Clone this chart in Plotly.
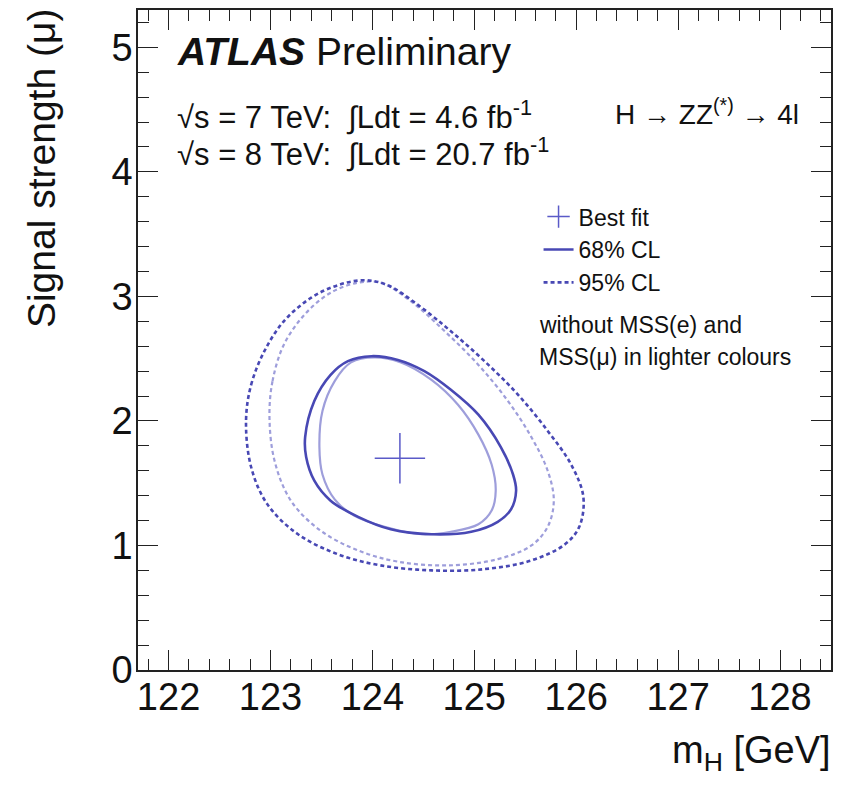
import plotly.graph_objects as go

# ---- data ----
best_fit_mh = [124.27]
best_fit_mu = [1.70]

# 68% CL, with MSS (dark)
cl68_mh = [123.34, 123.43, 123.59, 123.76, 123.99, 124.25, 124.51, 124.77, 125.04, 125.26,
           125.38, 125.41, 125.36, 125.23, 124.97, 124.58, 124.18, 123.86, 123.59, 123.43, 123.35]
cl68_mu = [1.87, 2.16, 2.37, 2.48, 2.52, 2.49, 2.40, 2.25, 2.05, 1.79,
           1.57, 1.44, 1.29, 1.19, 1.11, 1.09, 1.13, 1.23, 1.36, 1.52, 1.71]

# 68% CL, without MSS (light)
cl68_nomss_mh = [123.48, 123.51, 123.63, 123.79, 124.02, 124.28, 124.58, 124.84, 125.04, 125.17,
                 125.21, 125.17, 125.04, 124.77, 124.48, 124.12, 123.82, 123.63, 123.51]
cl68_nomss_mu = [1.79, 2.08, 2.32, 2.47, 2.51, 2.47, 2.33, 2.13, 1.89, 1.65,
                 1.44, 1.28, 1.17, 1.11, 1.09, 1.15, 1.24, 1.37, 1.57]

# 95% CL, with MSS (dark)
cl95_mh = [122.76, 122.81, 122.94, 123.13, 123.40, 123.66, 123.92, 124.15, 124.45, 124.77,
           125.10, 125.43, 125.72, 125.95, 126.07, 126.03, 125.89, 125.56, 125.10, 124.58,
           124.08, 123.66, 123.27, 122.97, 122.81]
cl95_mu = [2.00, 2.29, 2.56, 2.80, 2.99, 3.09, 3.13, 3.09, 2.93, 2.72,
           2.48, 2.21, 1.92, 1.65, 1.39, 1.15, 1.01, 0.88, 0.81, 0.80,
           0.84, 0.93, 1.09, 1.33, 1.63]

# 95% CL, without MSS (light)
cl95_nomss_mh = [122.99, 123.02, 123.13, 123.33, 123.59, 123.86, 124.08, 124.38, 124.71, 125.04,
                 125.33, 125.56, 125.72, 125.78, 125.72, 125.56, 125.23, 124.74, 124.25, 123.86,
                 123.49, 123.20, 123.04]
cl95_nomss_mu = [2.03, 2.32, 2.61, 2.85, 3.03, 3.11, 3.11, 2.96, 2.72, 2.45,
                 2.16, 1.87, 1.60, 1.36, 1.15, 1.00, 0.89, 0.84, 0.87, 0.96,
                 1.12, 1.36, 1.68]

x_ticks = [122, 123, 124, 125, 126, 127, 128]
y_ticks = [0, 1, 2, 3, 4, 5]

DARK = "#4848b4"
LIGHT = "#9e9edb"
FONT = "Liberation Sans, Arial, Helvetica, sans-serif"


def closed(v):
    return list(v) + [v[0]]


fig = go.Figure()

fig.add_trace(go.Scatter(x=closed(cl95_nomss_mh), y=closed(cl95_nomss_mu), mode="lines",
                         line=dict(color=LIGHT, width=2.2, dash="4px,3px", shape="spline", smoothing=1.0),
                         showlegend=False, hoverinfo="skip"))
fig.add_trace(go.Scatter(x=closed(cl95_mh), y=closed(cl95_mu), mode="lines", name="95% CL",
                         line=dict(color=DARK, width=2.6, dash="4px,3px", shape="spline", smoothing=1.0),
                         legendgroup="c", legendrank=3))
fig.add_trace(go.Scatter(x=closed(cl68_nomss_mh), y=closed(cl68_nomss_mu), mode="lines",
                         line=dict(color=LIGHT, width=2.2, shape="spline", smoothing=1.0),
                         showlegend=False, hoverinfo="skip"))
fig.add_trace(go.Scatter(x=closed(cl68_mh), y=closed(cl68_mu), mode="lines", name="68% CL",
                         line=dict(color=DARK, width=2.6, shape="spline", smoothing=1.0),
                         legendgroup="b", legendrank=2))
fig.add_trace(go.Scatter(x=best_fit_mh, y=best_fit_mu, mode="markers", name="Best fit",
                         marker=dict(symbol="cross-thin", size=36, color="#5a5ac8",
                                     line=dict(color="#5a5ac8", width=1.5)),
                         legendgroup="a", legendrank=1))

axis_common = dict(
    showgrid=False, zeroline=False, showline=True, linecolor="#222", linewidth=1.5,
    mirror="ticks", ticks="inside", ticklen=20, tickwidth=1.2, tickcolor="#222",
    tickfont=dict(family=FONT, size=38, color="#111"),
    minor=dict(ticks="inside", ticklen=11, tickwidth=1.2, tickcolor="#222", dtick=0.2, showgrid=False),
)

fig.update_xaxes(range=[121.7, 128.5], tickvals=x_ticks, ticklabelstandoff=-7, **axis_common)
fig.update_yaxes(range=[0, 5.3], tickvals=y_ticks, ticklabelstandoff=-4, **axis_common)

annots = [
    dict(text="<b><i>ATLAS</i></b> Preliminary", x=0.0535, y=0.937, xanchor="left", yanchor="middle",
         font=dict(size=39, family=FONT, color="#111")),
    dict(text="√s = 7 TeV:  ∫Ldt = 4.6 fb<sup>-1</sup>", x=0.0535, y=0.8415, xanchor="left", yanchor="middle",
         font=dict(size=31, family=FONT, color="#111")),
    dict(text="√s = 8 TeV:  ∫Ldt = 20.7 fb<sup>-1</sup>", x=0.0535, y=0.7845, xanchor="left", yanchor="middle",
         font=dict(size=31, family=FONT, color="#111")),
    dict(text="H → ZZ<sup>(*)</sup> → 4l", x=0.6855, y=0.846, xanchor="left", yanchor="middle",
         font=dict(size=28, family=FONT, color="#111")),
    dict(text="without MSS(e) and", x=0.576, y=0.5225, xanchor="left", yanchor="middle",
         font=dict(size=23, family=FONT, color="#111")),
    dict(text="MSS(μ) in lighter colours", x=0.576, y=0.475, xanchor="left", yanchor="middle",
         font=dict(size=23, family=FONT, color="#111")),
    dict(text="Signal strength (μ)", x=-0.139, y=0.76, xanchor="center", yanchor="middle", textangle=-90,
         font=dict(size=39, family=FONT, color="#111")),
    dict(text="m<sub>H</sub> [GeV]", x=1.003, y=-0.125, xanchor="right", yanchor="middle",
         font=dict(size=38, family=FONT, color="#111")),
]
for a in annots:
    a.update(xref="paper", yref="paper", showarrow=False)

fig.update_layout(
    width=835, height=778,
    margin=dict(l=130, r=12, t=0, b=116),
    paper_bgcolor="white", plot_bgcolor="white",
    annotations=annots,
    showlegend=True,
    legend=dict(x=0.578, y=0.7195, xanchor="left", yanchor="top", bgcolor="rgba(0,0,0,0)",
                font=dict(size=23, family=FONT, color="#111"), itemwidth=30,
                tracegroupgap=0, traceorder="grouped"),
)

fig.write_html("out.html")
